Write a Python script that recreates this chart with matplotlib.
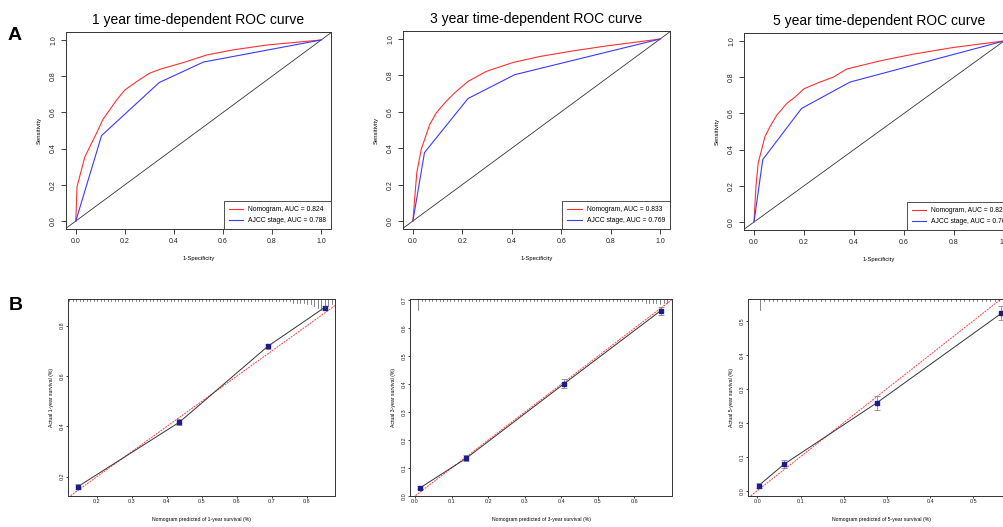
import numpy as np
import matplotlib
matplotlib.use('Agg')
import matplotlib.pyplot as plt

plt.rcParams['font.family'] = ['Liberation Sans', 'DejaVu Sans']

W, H = 1004, 527

# ---------------- ROC data ----------------
years = ['1', '3', '5']
auc_nomo = ['0.824', '0.833', '0.829']
auc_ajcc = ['0.788', '0.769', '0.768']

roc_nomo_fpr = [
    [0.0, 0.005, 0.037, 0.084, 0.11, 0.166, 0.2, 0.248, 0.30, 0.343, 0.45, 0.533, 0.64, 0.778, 1.0],
    [0.0, 0.007, 0.016, 0.034, 0.068, 0.095, 0.135, 0.169, 0.223, 0.297, 0.405, 0.514, 0.649, 0.784, 1.0],
    [0.0, 0.008, 0.017, 0.044, 0.064, 0.091, 0.131, 0.164, 0.2, 0.264, 0.317, 0.371, 0.504, 0.637, 0.797, 1.0],
]
roc_nomo_tpr = [
    [0.0, 0.19, 0.355, 0.484, 0.56, 0.668, 0.724, 0.77, 0.816, 0.838, 0.88, 0.917, 0.945, 0.972, 1.0],
    [0.0, 0.12, 0.267, 0.395, 0.53, 0.595, 0.658, 0.704, 0.767, 0.822, 0.871, 0.904, 0.935, 0.962, 1.0],
    [0.0, 0.2, 0.327, 0.473, 0.527, 0.59, 0.655, 0.69, 0.736, 0.773, 0.80, 0.845, 0.89, 0.927, 0.964, 1.0],
]
roc_ajcc_fpr = [
    [0.0, 0.105, 0.34, 0.52, 1.0],
    [0.0, 0.047, 0.223, 0.412, 1.0],
    [0.0, 0.035, 0.19, 0.384, 1.0],
]
roc_ajcc_tpr = [
    [0.0, 0.472, 0.765, 0.878, 1.0],
    [0.0, 0.376, 0.673, 0.804, 1.0],
    [0.0, 0.345, 0.627, 0.773, 1.0],
]

# ---------------- calibration data ----------------
cal_pred = [
    [0.145, 0.435, 0.688, 0.85],
    [0.015, 0.14, 0.408, 0.672],
    [0.003, 0.062, 0.276, 0.565],
]
cal_obs = [
    [0.160, 0.416, 0.718, 0.872],
    [0.030, 0.135, 0.402, 0.663],
    [0.015, 0.078, 0.258, 0.522],
]
cal_err = [
    [0.010, 0.012, 0.010, 0.008],
    [0.006, 0.010, 0.016, 0.015],
    [0.007, 0.012, 0.020, 0.020],
]
cal_xticks = [[0.2, 0.3, 0.4, 0.5, 0.6, 0.7, 0.8],
              [0.0, 0.1, 0.2, 0.3, 0.4, 0.5, 0.6],
              [0.0, 0.1, 0.2, 0.3, 0.4, 0.5]]
cal_yticks = [[0.2, 0.4, 0.6, 0.8],
              [0.0, 0.1, 0.2, 0.3, 0.4, 0.5, 0.6, 0.7],
              [0.0, 0.1, 0.2, 0.3, 0.4, 0.5]]
cal_xlim = [(0.117, 0.88), (-0.0137, 0.703), (-0.0215, 0.594)]
cal_ylim = [(0.123, 0.906), (0.0, 0.705), (-0.0156, 0.564)]

# rug (frequency of predictions) along the top
rug_range = [(0.12, 0.88), (0.008, 0.69), (0.006, 0.60)]
rug_counts = [
    [1] * 64 + [2, 2, 2, 2, 3, 3, 4, 5, 6, 5, 4, 3, 3],
    [6] + [1] * 62 + [2, 2, 2, 2, 3, 2, 2],
    [6] + [1] * 59,
]

# axes boxes in pixels: (left, top, right, bottom)
roc_box = [(66, 32, 331, 229), (403, 31, 670, 229), (744, 33, 1014, 230)]
cal_box = [(68, 299, 335, 496), (410, 299, 672, 496), (748, 299, 1014, 496)]


def add_ax(fig, box):
    l, t, r, b = box
    return fig.add_axes([l / W, 1 - b / H, (r - l) / W, (b - t) / H])


def style(ax, fs, tl, pad):
    for s in ax.spines.values():
        s.set_color('#333333')
        s.set_linewidth(0.7)
    ax.tick_params(labelsize=fs, length=tl, width=0.6, pad=pad, colors='#222222')
    for lab in ax.get_yticklabels():
        lab.set_rotation(90)
        lab.set_va('center')


fig = plt.figure(figsize=(W / 100, H / 100), dpi=100)

for i in range(3):
    ax = add_ax(fig, roc_box[i])
    ax.plot([-0.2, 1.2], [-0.2, 1.2], color='#333333', lw=0.6)
    ax.plot(roc_nomo_fpr[i], roc_nomo_tpr[i], color='#ff3030', lw=0.8,
            label='Nomogram, AUC = ' + auc_nomo[i])
    ax.plot(roc_ajcc_fpr[i], roc_ajcc_tpr[i], color='#3a3aff', lw=0.8,
            label='AJCC stage, AUC = ' + auc_ajcc[i])
    ax.set_xlim(-0.04, 1.04)
    ax.set_ylim(-0.044, 1.044)
    ax.set_xticks([0, 0.2, 0.4, 0.6, 0.8, 1.0])
    ax.set_yticks([0, 0.2, 0.4, 0.6, 0.8, 1.0])
    ax.set_xticklabels(['0.0', '0.2', '0.4', '0.6', '0.8', '1.0'])
    ax.set_yticklabels(['0.0', '0.2', '0.4', '0.6', '0.8', '1.0'])
    style(ax, 5, 3.5, 3)
    ax.set_title(years[i] + ' year time-dependent ROC curve', fontsize=10, pad=6)
    ax.set_xlabel('1-Specificity', fontsize=4.2, labelpad=8)
    ax.set_ylabel('Sensitivity', fontsize=4.2, labelpad=6)
    leg = ax.legend(loc='lower right', borderaxespad=0, fontsize=4.9, fancybox=False,
                    handlelength=2.1, handletextpad=0.7, labelspacing=0.55,
                    borderpad=0.75, framealpha=1)
    leg.get_frame().set_edgecolor('#333333')
    leg.get_frame().set_linewidth(0.6)

for i in range(3):
    ax = add_ax(fig, cal_box[i])
    lo, hi = cal_xlim[i]
    ax.plot([-0.1, 1.0], [-0.1, 1.0], color='#ff4040', lw=0.7, ls=(0, (2, 1)))
    ax.plot(cal_pred[i], cal_obs[i], color='#333333', lw=0.7)
    ax.errorbar(cal_pred[i], cal_obs[i], yerr=cal_err[i], fmt='none',
                ecolor='#888888', elinewidth=0.6, capsize=2, capthick=0.6)
    ax.plot(cal_pred[i], cal_obs[i], 's', color='#1c1c8c', ms=2.4)
    # rug of predicted values hanging from the top
    r0, r1 = rug_range[i]
    cnt = rug_counts[i]
    rx = np.linspace(r0, r1, len(cnt))
    for x, c in zip(rx, cnt):
        ax.plot([x, x], [1.0, 1.0 - 0.009 * c], transform=ax.get_xaxis_transform(),
                color='#555555', lw=0.5, clip_on=False)
    ax.set_xlim(lo, hi)
    ax.set_ylim(*cal_ylim[i])
    ax.set_xticks(cal_xticks[i])
    ax.set_yticks(cal_yticks[i])
    ax.set_xticklabels(['%.1f' % v for v in cal_xticks[i]])
    ax.set_yticklabels(['%.1f' % v for v in cal_yticks[i]])
    style(ax, 3.9, 1.5, 0.8)
    ax.set_xlabel('Nomogram predicted of %s-year survival (%%)' % years[i], fontsize=3.7, labelpad=9)
    ax.set_ylabel('Actual %s-year survival (%%)' % years[i], fontsize=3.7, labelpad=4)

fig.text(15 / W, 1 - 35 / H, 'A', fontsize=14, fontweight='bold', ha='center', va='center')
fig.text(16 / W, 1 - 305 / H, 'B', fontsize=14, fontweight='bold', ha='center', va='center')

fig.savefig('out.png', dpi=100)
